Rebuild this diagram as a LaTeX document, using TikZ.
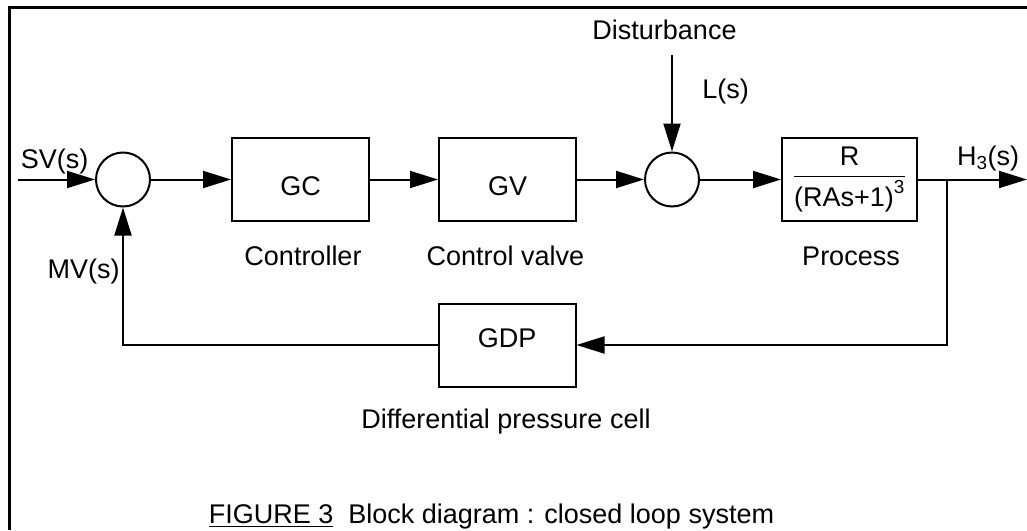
\documentclass[tikz,border=0pt]{standalone}
\usepackage{amsmath}
\usepackage{fontspec}
\setmainfont{Liberation Sans}
\usepackage{tikz}
\usetikzlibrary{arrows.meta}

\begin{document}
\begin{tikzpicture}[x=1pt, y=-1pt,
    font=\fontsize{27}{32}\selectfont,
  ]
  \tikzstyle{block} = [draw, line width=2pt, minimum width=137pt,
    minimum height=83pt, inner sep=0pt, align=center]
  \tikzstyle{lowtext} = [text height=31pt, text depth=0pt]
  \tikzstyle{sumpt} = [draw, circle, line width=2pt, minimum size=54pt,
    inner sep=0pt]
  \tikzstyle{sig} = [-{Triangle[length=28pt, width=17pt]}, line width=2pt]
  \tikzstyle{lbl} = [inner sep=0pt, anchor=base]

  \useasboundingbox (0,0) rectangle (1027,530);

  % Frame (top and left edges only)
  \draw[line width=3pt] (9,530) -- (9,7) -- (1027,7);

  % Forward path
  \node[sumpt] (sum1) at (123,179.5) {};
  \node[block, lowtext] (gc) at (300.5,179.5) {GC};
  \node[block, lowtext] (gv) at (507.5,179.5) {GV};
  \node[sumpt] (sum2) at (672,179.5) {};
  \node[block, minimum width=135pt] (proc) at (849.5,179.5)
    {$\dfrac{\text{R}}{\text{(RAs+1)}^{\text{3}}}$};

  % Feedback element
  \node[block, text height=19pt, text depth=15pt] (gdp) at (507,345) {GDP};

  % Free ends
  \coordinate (svin) at (18,179.5);
  \coordinate (hout) at (1027,179.5);
  \coordinate (dist) at (672,55);
  \coordinate (tap) at (947,179.5);

  % Labels
  \node[lbl] (sv) at (54.5,168) {SV(s)};
  \node[lbl] (mv) at (83.5,278) {MV(s)};
  \node[lbl] (hlbl) at (988,165) {H\textsubscript{3}(s)};
  \node[lbl] (dlbl) at (664.5,39) {Disturbance};
  \node[lbl] (llbl) at (725.5,98) {L(s)};
  \node[lbl] (gclbl) at (303,265) {Controller};
  \node[lbl] (gvlbl) at (505.5,265) {Control valve};
  \node[lbl] (proclbl) at (851,265) {Process};
  \node[lbl] (gdplbl) at (506,428) {Differential pressure cell};
  \node[lbl] (caption) at (491.5,523)
    {\underline{FIGURE 3}\ \ Block diagram : closed loop system};

  % Signals
  \draw[sig] (svin) -- (sum1);
  \draw[sig] (sum1) -- (gc);
  \draw[sig] (gc) -- (gv);
  \draw[sig] (gv) -- (sum2);
  \draw[sig] (dist) -- (sum2);
  \draw[sig] (sum2) -- (proc);
  \draw[sig] (proc) -- (hout);
  \draw[sig] (tap) |- (gdp);
  \draw[sig] (gdp) -| (sum1);
\end{tikzpicture}
\end{document}
